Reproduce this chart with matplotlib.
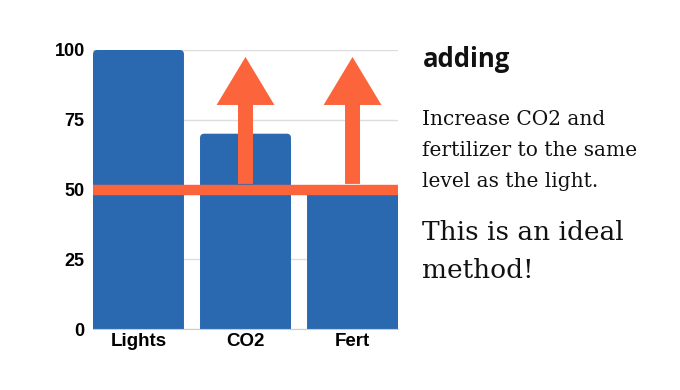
import numpy as np
import matplotlib.pyplot as plt
from matplotlib.patches import FancyBboxPatch

# dados do grafico
categorias = ["Lights", "CO2", "Fert"]
valores = [100, 70, 50]
nivel_luz = 50
seta_inicio = 52
seta_fim = 97.5
seta_categorias = ["CO2", "Fert"]
yticks = [0, 25, 50, 75, 100]

azul = "#2A69AF"
laranja = "#FC643C"

W, H = 680, 390
fig = plt.figure(figsize=(W / 100, H / 100), dpi=100)
ax = fig.add_axes([93 / W, 61 / H, 305 / W, 279 / H])

x = np.arange(len(categorias))
ax.set_axisbelow(True)
ax.yaxis.grid(True, color="#dddddd", linewidth=1)
barras = ax.bar(x, valores, width=0.85, color=azul, zorder=2)

# cantos arredondados so em cima (a parte de baixo fica cortada pelo eixo)
for b in barras:
    b.set_visible(False)
    x0, y0 = b.get_xy()
    p = FancyBboxPatch((x0, y0 - 5), b.get_width(), b.get_height() + 5,
                       boxstyle="round,pad=0,rounding_size=0.04",
                       mutation_aspect=38, facecolor=azul, edgecolor="none",
                       zorder=2)
    ax.add_patch(p)

ax.axhline(nivel_luz, color=laranja, linewidth=7.5, zorder=3)

for cat in seta_categorias:
    i = categorias.index(cat)
    ax.arrow(i, seta_inicio, 0, seta_fim - seta_inicio, width=0.14,
             head_width=0.54, head_length=17.2, length_includes_head=True,
             color=laranja, zorder=4, linewidth=0)

ax.set_xlim(-0.425, 2.425)
ax.set_ylim(0, 100)
ax.set_xticks(x)
ax.set_xticklabels(categorias)
ax.set_yticks(yticks)
for s in ["top", "right", "left"]:
    ax.spines[s].set_visible(False)
ax.spines["bottom"].set_color("#cccccc")
ax.spines["bottom"].set_zorder(5)
ax.tick_params(length=0)
ax.tick_params(axis="y", pad=6, labelsize=13)
ax.tick_params(axis="x", pad=3, labelsize=13.5)
for lab in ax.get_xticklabels() + ax.get_yticklabels():
    lab.set_fontfamily("Liberation Sans")
    lab.set_fontweight("bold")

def fx(px):
    return px / W

def fy(py):
    return 1 - py / H

fig.text(fx(423), fy(67), "adding", fontsize=18.5, fontweight="bold",
         family="Open Sans", va="baseline", color="#111111")
corpo = ["Increase CO2 and", "fertilizer to the same", "level as the light."]
for k, linha in enumerate(corpo):
    fig.text(fx(422), fy(125 + 31 * k), linha, fontsize=14.5,
             family="DejaVu Serif", va="baseline", color="#111111")
grande = ["This is an ideal", "method!"]
for k, linha in enumerate(grande):
    fig.text(fx(422), fy(240 + 38 * k), linha, fontsize=19,
             family="DejaVu Serif", va="baseline", color="#111111")

plt.savefig("out.png", dpi=100)
